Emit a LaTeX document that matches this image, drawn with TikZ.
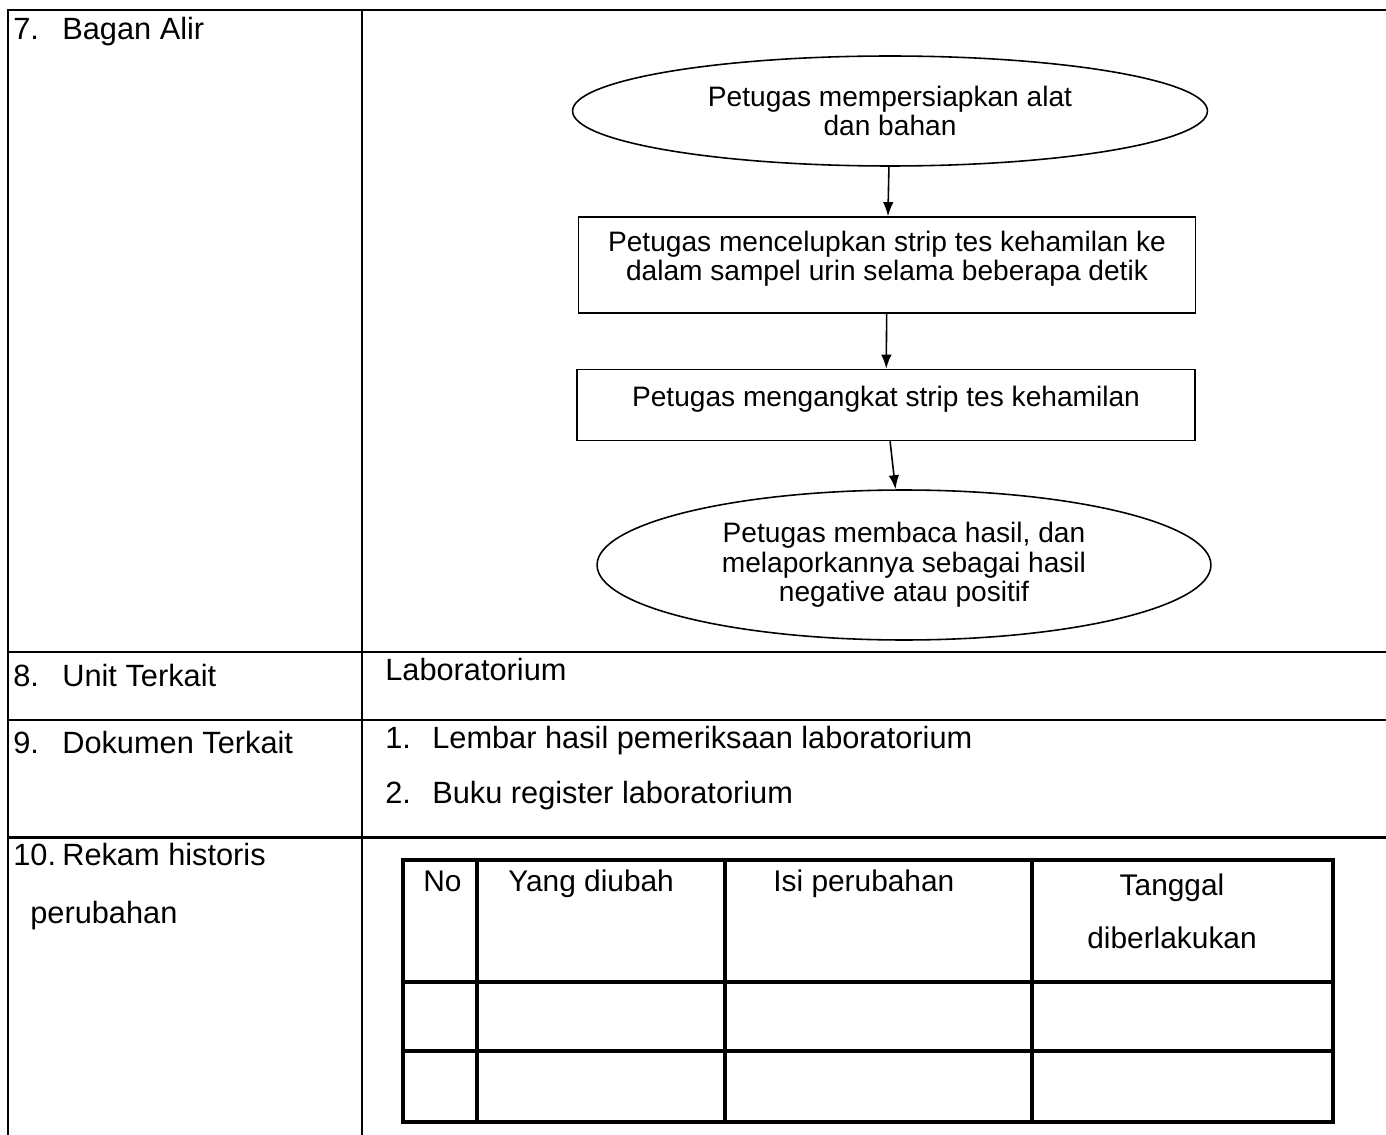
\documentclass[tikz,border=0pt]{standalone}
\usepackage{fontspec}
\setmainfont{Liberation Sans}
\usetikzlibrary{shapes.geometric, arrows.meta, positioning}
\tikzset{
  frame/.style={line width=1.7pt, color=black},
  cell/.style={line width=1.9pt, color=black},
  txt/.style={anchor=base west, inner sep=0pt, font=\fontsize{17.5}{20}\selectfont},
  htxt/.style={anchor=base west, inner sep=0pt, font=\fontsize{17}{20}\selectfont},
  ctxt/.style={anchor=base, inner sep=0pt, font=\fontsize{17}{20}\selectfont},
  term/.style={ellipse, draw, line width=0.9pt, align=center, inner sep=0pt,
    font=\fontsize{16}{16.8}\selectfont},
  proc/.style={rectangle, draw, line width=0.9pt, align=center, inner sep=0pt,
    font=\fontsize{16}{16.6}\selectfont},
  arrow/.style={-{Latex[length=8pt,width=6pt]}, line width=0.9pt}
}
\newcommand{\numtab}[2]{\makebox[0.98cm][l]{#1}#2}
\newcommand{\lowstrut}{\rule[-10pt]{0pt}{10pt}}

\begin{document}
\begin{tikzpicture}[x=0.02cm, y=-0.02cm]
  \useasboundingbox (0,0) rectangle (1386,1135);

  % Outer form table
  \draw[frame] (1386,10) -- (8,10) -- (8,1135);
  \draw[frame] (362,10) -- (362,1135);
  \foreach \y in {652,720,837} {
    \draw[frame] (8,\y) -- (1386,\y);
  }

  % Left column labels
  \node[txt] (lbl7) at (13,40) {\numtab{7.}{Bagan Alir}};
  \node[txt] (lbl8) at (13,686) {\numtab{8.}{Unit Terkait}};
  \node[txt] (lbl9) at (13,753) {\numtab{9.}{Dokumen Terkait}};
  \node[txt] (lbl10) at (13,865) {\numtab{10.}{Rekam historis}};
  \node[txt] (lbl10b) at (30,923) {perubahan};

  % Right column entries
  \node[txt] (unit) at (385,680) {Laboratorium};
  \node[txt] (doc1) at (385,748) {\makebox[0.94cm][l]{1.}Lembar hasil pemeriksaan laboratorium};
  \node[txt] (doc2) at (385,803) {\makebox[0.94cm][l]{2.}Buku register laboratorium};

  % Flowchart
  \node[term, minimum width=12.7cm, minimum height=2.2cm] (prep) at (890,111)
    {Petugas mempersiapkan alat\\dan bahan};
  \node[proc, minimum width=12.34cm, minimum height=1.92cm] (dip) at (887,265)
    {Petugas mencelupkan strip tes kehamilan ke\\dalam sampel urin selama beberapa detik\lowstrut};
  \node[proc, minimum width=12.36cm, minimum height=1.42cm] (lift) at (886,405)
    {Petugas mengangkat strip tes kehamilan\lowstrut};
  \node[term, minimum width=12.28cm, minimum height=3cm] (read) at (904,565)
    {Petugas membaca hasil, dan\\melaporkannya sebagai hasil\\negative atau positif};

  \draw[arrow] (prep) -- (dip);
  \draw[arrow] (dip) -- (lift);
  \draw[arrow] (lift) -- (read);

  % Change history table
  \draw[cell] (403,860) rectangle (1333,1122);
  \foreach \x in {477,725,1032} {
    \draw[cell] (\x,860) -- (\x,1122);
  }
  \foreach \y in {982,1051} {
    \draw[cell] (403,\y) -- (1333,\y);
  }
  \node[htxt] (hno) at (423,891) {No};
  \node[htxt] (hchg) at (508,891) {Yang diubah};
  \node[htxt] (hisi) at (773,891) {Isi perubahan};
  \node[ctxt] (htgl) at (1172,895) {Tanggal};
  \node[ctxt] (htgl2) at (1172,948) {diberlakukan};
\end{tikzpicture}
\end{document}
